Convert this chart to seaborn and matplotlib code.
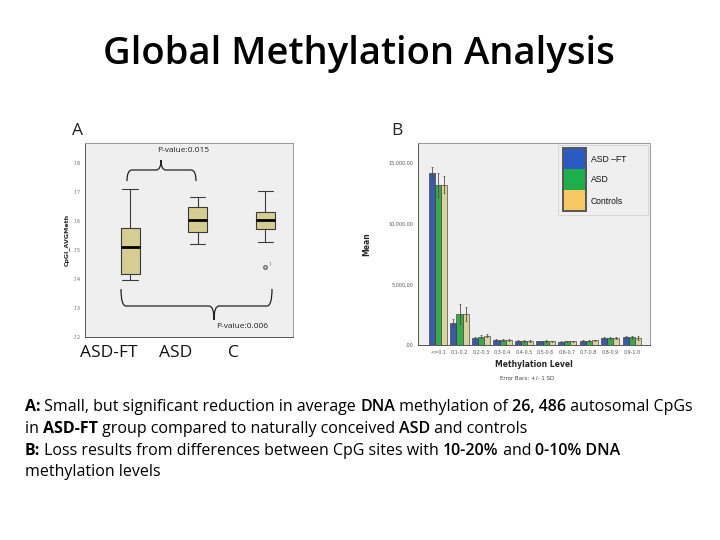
import numpy as np
import pandas as pd
import matplotlib
matplotlib.use("Agg")
import matplotlib.pyplot as plt
import seaborn as sns
from matplotlib.path import Path
from matplotlib.patches import PathPatch, Rectangle

# ---------------- data ----------------
# Panel A: box-plot summaries of CpGI_AVGMeth
box_groups = ["ASD-FT", "ASD", "C"]
whisker_low = [0.1397, 0.1521, 0.1528]
box_q1 = [0.1417, 0.1562, 0.1572]
box_median = [0.1510, 0.1603, 0.1603]
box_q3 = [0.1576, 0.1648, 0.1631]
whisker_high = [0.1710, 0.1683, 0.1703]
box_outliers = [[], [], [0.1441]]
a_ticks = [0.12, 0.13, 0.14, 0.15, 0.16, 0.17, 0.18]
a_ticklabels = [".12", ".13", ".14", ".15", ".16", ".17", ".18"]

# Panel B: mean number of CpGs per methylation level
levels = ["<=0.1", "0.1-0.2", "0.2-0.3", "0.3-0.4", "0.4-0.5",
          "0.5-0.6", "0.6-0.7", "0.7-0.8", "0.8-0.9", "0.9-1.0"]
bar_groups = ["ASD \u2013FT", "ASD", "Controls"]
mean_asdft = [14200, 1800, 580, 400, 330, 300, 280, 330, 560, 680]
mean_asd = [13200, 2560, 700, 400, 340, 320, 300, 370, 560, 620]
mean_ctrl = [13200, 2560, 780, 400, 340, 320, 300, 380, 560, 560]
sd_asdft = [500, 350, 80, 60, 50, 50, 50, 60, 80, 100]
sd_asd = [1000, 800, 120, 60, 60, 60, 50, 70, 100, 150]
sd_ctrl = [700, 550, 100, 60, 60, 50, 50, 70, 90, 160]
b_ticks = [0, 5000, 10000, 15000]
b_ticklabels = [".00", "5,000.00", "10,000.00", "15,000.00"]

title = "Global Methylation Analysis"
caption = [
    [("A:", "bold"), (" Small, but significant reduction in average ", "normal"),
     ("DNA", "semibold"), (" methylation of ", "normal"), ("26, 486", "semibold"),
     (" autosomal CpGs", "normal")],
    [("in ", "normal"), ("ASD-FT", "bold"), (" group compared to naturally conceived ", "normal"),
     ("ASD", "semibold"), (" and controls", "normal")],
    [("B:", "bold"), (" Loss results from differences between CpG sites with ", "normal"),
     ("10-20%", "semibold"), (" and ", "normal"), ("0-10% DNA", "semibold")],
    [("methylation levels", "normal")],
]

# ---------------- style ----------------
sns.set_theme(style="white")
plt.rcParams["font.family"] = ["Open Sans", "DejaVu Sans"]

W, H = 720, 540
fig = plt.figure(figsize=(7.2, 5.4), dpi=100)
fig.patch.set_facecolor("white")


def fx(px):
    return px / W


def fy(py):
    return 1 - py / H


panel_bg = "#efefef"
box_color = "#d6cd93"
bar_colors = ["#3b5aa8", "#3aa84c", "#d8d29f"]
legend_colors = ["#2a5bc4", "#1fae4c", "#f8c862"]

# ---------------- panel A ----------------
axA = fig.add_axes([fx(85), fy(337), fx(208), 194 / H])
axA.set_facecolor(panel_bg)
rowsA = []
for g, lo, q1, md, q3, hi, outs in zip(box_groups, whisker_low, box_q1, box_median,
                                       box_q3, whisker_high, box_outliers):
    sample = list(outs) + [lo] * (2 - len(outs)) + [q1, q1, md, q3, q3, hi, hi]
    for v in sample:
        rowsA.append({"group": g, "value": v})
dfA = pd.DataFrame(rowsA)
box_w = 0.28
sns.boxplot(data=dfA, x="group", y="value", order=box_groups, color=box_color,
            saturation=1, width=box_w, linecolor="#3a3a3a", linewidth=0.8,
            medianprops=dict(color="black", linewidth=2),
            flierprops=dict(marker="o", markerfacecolor="none",
                            markeredgecolor="#666", markersize=2.5),
            ax=axA)
# widen the whisker caps
for ln in axA.lines:
    xd = np.asarray(ln.get_xdata(), dtype=float)
    yd = np.asarray(ln.get_ydata(), dtype=float)
    if len(xd) == 2 and yd[0] == yd[1]:
        wid = abs(xd[1] - xd[0])
        if 0 < wid < box_w * 0.9:
            c = xd.mean()
            ln.set_xdata([c - 0.115, c + 0.115])
axA.set_xlim(-0.667, 2.41)
axA.set_ylim(0.12, 0.1869)
axA.set_yticks(a_ticks)
axA.set_yticklabels(a_ticklabels, fontsize=3.5, color="#555")
axA.set_xticks([0, 1, 2])
axA.set_xticklabels(["", "", ""])
axA.tick_params(axis="both", length=2, width=0.5, color="#555", pad=1)
axA.set_xlabel("")
axA.set_ylabel("CpGI_AVGMeth", fontsize=4.5, fontweight="bold", labelpad=3,
               family=["DejaVu Sans"])
for s in axA.spines.values():
    s.set_color("#999")
    s.set_linewidth(0.7)
axA.spines["left"].set_color("#555")
axA.spines["bottom"].set_color("#555")
# outlier case number
axA.text(2.05, box_outliers[2][0] + 0.0004, "1", fontsize=3.5, color="#555")

# ---------------- panel B ----------------
axB = fig.add_axes([fx(418), fy(345), fx(232), 202 / H])
axB.set_facecolor(panel_bg)
rowsB = []
for g, means in zip(bar_groups, [mean_asdft, mean_asd, mean_ctrl]):
    for lv, m in zip(levels, means):
        rowsB.append({"level": lv, "group": g, "mean": m})
dfB = pd.DataFrame(rowsB)
sns.barplot(data=dfB, x="level", y="mean", hue="group", order=levels,
            hue_order=bar_groups, palette=bar_colors, saturation=1, width=0.85,
            edgecolor="#2a2a2a", linewidth=0.4, errorbar=None, legend=False, ax=axB)
for cont, sds in zip(axB.containers, [sd_asdft, sd_asd, sd_ctrl]):
    for bar, sd in zip(cont, sds):
        axB.errorbar(bar.get_x() + bar.get_width() / 2, bar.get_height(), yerr=sd,
                     fmt="none", ecolor="#5a4a3a", elinewidth=0.6, capsize=0.8,
                     capthick=0.5)
axB.set_xlim(-0.93, 9.85)
axB.set_ylim(0, 16650)
axB.set_yticks(b_ticks)
axB.set_yticklabels(b_ticklabels, fontsize=3.5, color="#555", family=["DejaVu Sans"])
axB.set_xticks(range(len(levels)))
axB.set_xticklabels(levels, fontsize=3.5, color="#555", family=["DejaVu Sans"])
axB.tick_params(axis="both", length=2, width=0.5, color="#555", pad=1.5)
axB.set_xlabel("Methylation Level", fontsize=5.5, fontweight="bold", labelpad=4,
               family=["DejaVu Sans"])
axB.set_ylabel("Mean", fontsize=5.5, fontweight="bold", labelpad=12,
               family=["DejaVu Sans"])
for s in axB.spines.values():
    s.set_color("#999")
    s.set_linewidth(0.7)
axB.spines["left"].set_color("#555")
axB.spines["bottom"].set_color("#555")

fig.text(fx(527), fy(378), "Error Bars: +/- 1 SD", fontsize=4, color="#444",
         ha="center", va="center", family=["DejaVu Sans"])

# legend (drawn as a block of colour swatches)
fig.patches.append(Rectangle((fx(558), fy(215)), fx(90), 70 / H, transform=fig.transFigure,
                             facecolor=panel_bg, edgecolor="#d4d4d4", linewidth=0.6))
sw_top = [148, 169, 190]
for c, t, lab in zip(legend_colors, sw_top, bar_groups):
    fig.patches.append(Rectangle((fx(563), fy(t + 21)), fx(23), 21 / H,
                                 transform=fig.transFigure, facecolor=c,
                                 edgecolor="none"))
    fig.text(fx(591), fy(t + 11), lab, fontsize=6.2, color="#111", ha="left",
             va="center", family=["Liberation Sans", "DejaVu Sans"])
fig.patches.append(Rectangle((fx(563), fy(211)), fx(23), 63 / H, transform=fig.transFigure,
                             facecolor="none", edgecolor="#555", linewidth=1.4))

# ---------------- braces and p-values ----------------

def brace(x0, x1, yend, ybar, xm, ytip, r):
    verts = [
        (x0, yend), (x0, ybar), (x0 + r, ybar),
        (xm - r, ybar), (xm, ybar), (xm, ytip),
        (xm, ybar), (xm + r, ybar),
        (x1 - r, ybar), (x1, ybar), (x1, yend),
    ]
    codes = [Path.MOVETO, Path.CURVE3, Path.CURVE3,
             Path.LINETO, Path.CURVE3, Path.CURVE3,
             Path.CURVE3, Path.CURVE3,
             Path.LINETO, Path.CURVE3, Path.CURVE3]
    verts = [(fx(a), fy(b)) for a, b in verts]
    fig.patches.append(PathPatch(Path(verts, codes), transform=fig.transFigure,
                                 facecolor="none", edgecolor="#222", linewidth=0.9))


brace(127, 196, 181, 170, 161, 160, 5)
brace(121, 272, 289, 306, 214, 320, 5)
fig.text(fx(183), fy(150), "P-value:0.015", fontsize=6, color="#222", ha="center",
         va="center", family=["Open Sans", "DejaVu Sans"])
fig.text(fx(242), fy(326), "P-value:0.006", fontsize=6, color="#222", ha="center",
         va="center", family=["Open Sans", "DejaVu Sans"])

# ---------------- slide text ----------------
fig.text(fx(78), fy(131), "A", fontsize=12.5, ha="center", va="center", color="#222")
fig.text(fx(397), fy(131), "B", fontsize=12.5, ha="center", va="center", color="#222")

for lab, x in zip(box_groups, [109, 176, 233]):
    fig.text(fx(x), fy(353), lab, fontsize=12.5, ha="center", va="center", color="#111")

renderer = fig.canvas.get_renderer()

t = fig.text(fx(359), fy(64), title, fontsize=22, fontweight="semibold", ha="center",
             va="baseline", color="black")
wt = t.get_window_extent(renderer).width
t.set_fontsize(22 * 512 / wt)

# caption with mixed weights
cap_size = 11.0


def draw_line(segs, y, size):
    x = fx(25)
    arts = []
    for txt, weight in segs:
        a = fig.text(x, fy(y), txt, fontsize=size, fontweight=weight,
                     ha="left", va="baseline", color="black")
        bb = a.get_window_extent(renderer)
        x = bb.x1 / W
        arts.append(a)
    return arts, x * W


arts, xend = draw_line(caption[0], 411, cap_size)
for a in arts:
    a.remove()
cap_size = cap_size * (695 - 25) / (xend - 25)
for segs, y in zip(caption, [411, 433, 455, 476]):
    draw_line(segs, y, cap_size)

fig.savefig("out.png", dpi=100)
